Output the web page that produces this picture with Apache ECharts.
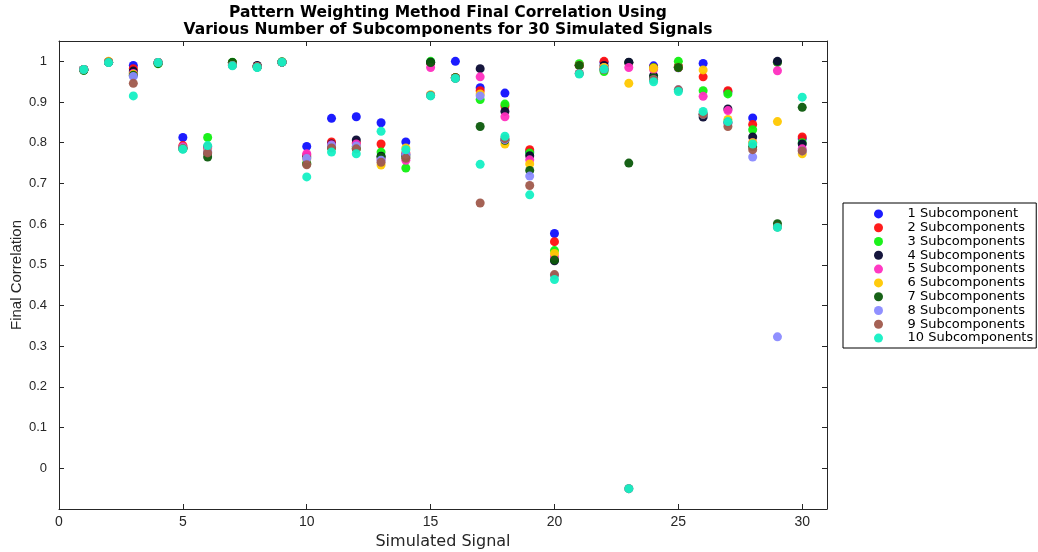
<!DOCTYPE html>
<html>
<head>
<meta charset="utf-8">
<script src="https://cdn.jsdelivr.net/npm/echarts@6/dist/echarts.min.js"></script>
<style>
  html, body { margin: 0; padding: 0; background: #fff; }
  #chart { width: 1038px; height: 552px; }
</style>
</head>
<body>
<div id="chart"></div>
<script>
// Simulated signal numbers (x)
const signals = [1,2,3,4,5,6,7,8,9,10,11,12,13,14,15,16,17,18,19,20,21,22,23,24,25,26,27,28,29,30];

const seriesNames = [
  '1 Subcomponent', '2 Subcomponents', '3 Subcomponents', '4 Subcomponents', '5 Subcomponents',
  '6 Subcomponents', '7 Subcomponents', '8 Subcomponents', '9 Subcomponents', '10 Subcomponents'
];

// final correlation for each number of subcomponents, one value per signal
const sub1  = [0.980,0.998,0.990,0.997,0.813,0.790,0.997,0.988,0.998,0.791,0.860,0.864,0.849,0.802,0.997,1.000,0.935,0.922,0.778,0.577,0.990,0.997,0.997,0.989,0.984,0.995,0.925,0.861,0.998,0.810];
const sub2  = [0.980,0.999,0.982,0.997,0.793,0.790,0.997,0.988,0.998,0.770,0.802,0.800,0.797,0.775,0.996,0.960,0.928,0.890,0.783,0.557,0.990,1.000,0.997,0.985,0.988,0.962,0.928,0.845,0.998,0.814];
const sub3  = [0.978,0.998,0.972,0.994,0.788,0.813,0.998,0.986,0.999,0.750,0.795,0.790,0.777,0.738,1.000,0.960,0.906,0.895,0.775,0.535,0.994,0.975,0.997,0.984,1.000,0.928,0.920,0.832,0.998,0.800];
const sub4  = [0.980,0.998,0.976,0.997,0.787,0.775,0.996,0.990,0.998,0.765,0.797,0.807,0.767,0.770,0.998,0.960,0.982,0.877,0.768,0.510,0.990,0.990,0.998,0.965,0.985,0.863,0.883,0.814,1.000,0.797];
const sub5  = [0.980,0.998,0.970,0.997,0.790,0.785,0.993,0.987,0.998,0.773,0.795,0.797,0.760,0.757,0.985,0.960,0.962,0.864,0.758,0.520,0.990,0.985,0.985,0.980,0.985,0.914,0.879,0.800,0.977,0.785];
const sub6  = [0.980,1.000,0.968,0.997,0.786,0.780,0.995,0.987,0.998,0.760,0.790,0.790,0.745,0.787,0.918,0.960,0.920,0.797,0.748,0.528,0.990,0.985,0.946,0.983,0.985,0.979,0.857,0.800,0.852,0.773];
const sub7  = [0.978,0.998,0.966,0.995,0.785,0.765,0.997,0.986,0.998,0.748,0.788,0.785,0.765,0.765,0.997,0.960,0.840,0.806,0.732,0.512,0.990,0.980,0.750,0.960,0.985,0.870,0.850,0.790,0.601,0.887];
const sub8  = [0.980,0.998,0.963,0.997,0.787,0.778,0.990,0.986,0.998,0.761,0.793,0.792,0.757,0.772,0.916,0.958,0.915,0.808,0.718,0.474,0.970,0.980,-0.050,0.955,0.930,0.870,0.848,0.765,0.323,0.780];
const sub9  = [0.980,0.998,0.946,0.997,0.786,0.775,0.990,0.987,0.998,0.746,0.787,0.785,0.752,0.762,0.916,0.958,0.652,0.810,0.695,0.476,0.970,0.980,-0.050,0.955,0.930,0.870,0.840,0.783,0.593,0.780];
const sub10 = [0.980,0.997,0.915,0.997,0.784,0.793,0.989,0.985,0.998,0.716,0.777,0.773,0.828,0.783,0.915,0.958,0.747,0.816,0.672,0.464,0.969,0.981,-0.050,0.950,0.926,0.877,0.852,0.797,0.592,0.912];

const seriesValues = [sub1, sub2, sub3, sub4, sub5, sub6, sub7, sub8, sub9, sub10];
const seriesColors = ['#1010ff','#ff1010','#10f010','#0a0a33','#ff2ec0','#ffc800','#0b5a0b','#8a8aff','#a05a4c','#14f0c4'];

const fontFam = '"Liberation Sans", Arial, Helvetica, sans-serif';
const wideFam = '"DejaVu Sans", "Liberation Sans", sans-serif';
const axisColor = '#262626';

const chart = echarts.init(document.getElementById('chart'), null, { renderer: 'canvas' });

const series = seriesValues.map((vals, i) => ({
  name: seriesNames[i],
  type: 'scatter',
  symbol: 'circle',
  symbolSize: 9,
  itemStyle: { color: seriesColors[i], opacity: 0.95 },
  data: signals.map((s, k) => [s, vals[k]]),
  z: 2 + i
}));

const tickStyle = { show: true, inside: true, length: 5, lineStyle: { color: axisColor } };

chart.setOption({
  backgroundColor: '#fff',
  animation: false,
  title: {
    text: 'Pattern Weighting Method Final Correlation Using\nVarious Number of Subcomponents for 30 Simulated Signals',
    left: 443,
    top: -1,
    textAlign: 'center',
    textStyle: { fontFamily: wideFam, fontSize: 15.5, fontWeight: 'bold', color: '#000', lineHeight: 17 }
  },
  grid: { left: 59, right: 211, top: 41, bottom: 43, outerBoundsMode: 'none', containLabel: false },
  legend: {
    orient: 'vertical',
    left: 843,
    top: 203,
    icon: 'circle',
    itemWidth: 48,
    itemHeight: 9,
    itemGap: 0,
    padding: [4, 3, 3, 31],
    borderColor: '#000',
    borderWidth: 1,
    textStyle: { fontFamily: wideFam, fontSize: 13, color: '#000', lineHeight: 13.8 },
    data: seriesNames
  },
  xAxis: [{
    type: 'value',
    min: 0, max: 31, interval: 5,
    name: 'Simulated Signal',
    nameLocation: 'middle',
    nameGap: 20,
    nameTextStyle: { fontFamily: wideFam, fontSize: 16, color: axisColor },
    axisLine: { show: true, onZero: false, lineStyle: { color: axisColor } },
    axisTick: tickStyle,
    axisLabel: { fontFamily: fontFam, fontSize: 14, color: axisColor, margin: 6, showMaxLabel: false },
    splitLine: { show: false }
  }, {
    type: 'value', position: 'top',
    min: 0, max: 31, interval: 5,
    axisLine: { show: true, onZero: false, lineStyle: { color: axisColor } },
    axisTick: tickStyle,
    axisLabel: { show: false },
    splitLine: { show: false }
  }],
  yAxis: [{
    type: 'value',
    min: -0.1, max: 1.05, interval: 0.1,
    name: 'Final Correlation',
    nameLocation: 'middle',
    nameGap: 35,
    nameMoveOverlap: false,
    nameTextStyle: { fontFamily: fontFam, fontSize: 15, color: axisColor },
    axisLine: { show: true, onZero: false, lineStyle: { color: axisColor } },
    axisTick: tickStyle,
    axisLabel: {
      fontFamily: fontFam, fontSize: 13, color: axisColor, margin: 12,
      showMinLabel: false, showMaxLabel: false,
      formatter: v => String(Math.round(v * 10) / 10)
    },
    splitLine: { show: false }
  }, {
    type: 'value', position: 'right',
    min: -0.1, max: 1.05, interval: 0.1,
    axisLine: { show: true, onZero: false, lineStyle: { color: axisColor } },
    axisTick: tickStyle,
    axisLabel: { show: false },
    splitLine: { show: false }
  }],
  series: series
});
</script>
</body>
</html>
